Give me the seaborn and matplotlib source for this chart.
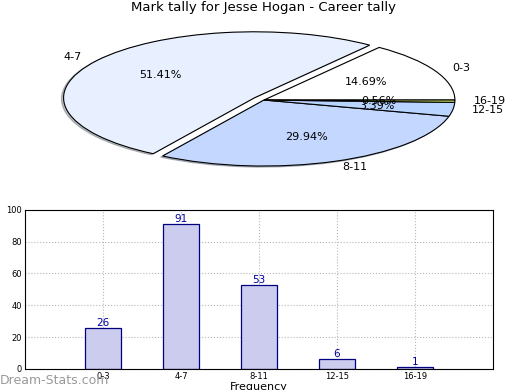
import matplotlib
matplotlib.use("Agg")
import matplotlib.pyplot as plt
import pandas as pd
import seaborn as sns

categories = ["0-3", "4-7", "8-11", "12-15", "16-19"]
counts = [26, 91, 53, 6, 1]
slice_colors = ["#ffffff", "#e8f0ff", "#c4d8ff", "#b8d4ff", "#cce866"]
explode = [0, 0.06, 0, 0, 0]

sns.set_theme(style="white")
plt.rcParams["font.family"] = ["DejaVu Sans"]
plt.rcParams["text.color"] = "black"
plt.rcParams["xtick.color"] = "black"
plt.rcParams["ytick.color"] = "black"
plt.rcParams["axes.labelcolor"] = "black"

fig = plt.figure(figsize=(5.2, 3.9), dpi=100)

# pie, stretched to fill a wide axes
ax1 = fig.add_axes([0.0486, 0.532, 0.918, 0.423])
wedges, texts, autotexts = ax1.pie(
    counts, labels=categories, colors=slice_colors, explode=explode,
    autopct=lambda p: f"{p:.2f}%", startangle=0,
    shadow={"ox": -0.008, "oy": -0.012, "shade": 0.5},
    wedgeprops=dict(edgecolor="black", linewidth=0.8),
    textprops=dict(fontsize=8, color="black"),
)
ax1.set_aspect("auto")
ax1.set_xlim(-1.25, 1.25)
ax1.set_ylim(-1.25, 1.25)
ax1.set_title("Mark tally for Jesse Hogan - Career tally", fontsize=9.5, pad=5)

# bar chart
df = pd.DataFrame({"interval": categories, "count": counts})
ax2 = fig.add_axes([0.048, 0.054, 0.9, 0.408])
sns.barplot(data=df, x="interval", y="count", ax=ax2, color="#ccccee",
            edgecolor="#000080", linewidth=0.9, width=0.45, saturation=1)
for i, v in enumerate(counts):
    ax2.text(i, v, str(v), ha="center", va="bottom", color="#0000a0", fontsize=7.5)
ax2.set_xlim(-1, 5)
ax2.set_ylim(0, 100)
ax2.set_yticks([0, 20, 40, 60, 80, 100])
ax2.grid(True, linestyle=":", color="#b8b8b8", linewidth=0.8)
for sp in ax2.spines.values():
    sp.set_color("black")
    sp.set_linewidth(0.8)
ax2.tick_params(axis="both", labelsize=6, direction="in", length=3, pad=2)
ax2.set_xlabel("Frequency", fontsize=8, labelpad=1)
ax2.set_ylabel("Stat Intervals", fontsize=8, labelpad=6)

fig.text(0.0, 0.008, "Dream-Stats.com", color="#999999", fontsize=9, ha="left", va="bottom")

fig.savefig("out.png", dpi=100)
